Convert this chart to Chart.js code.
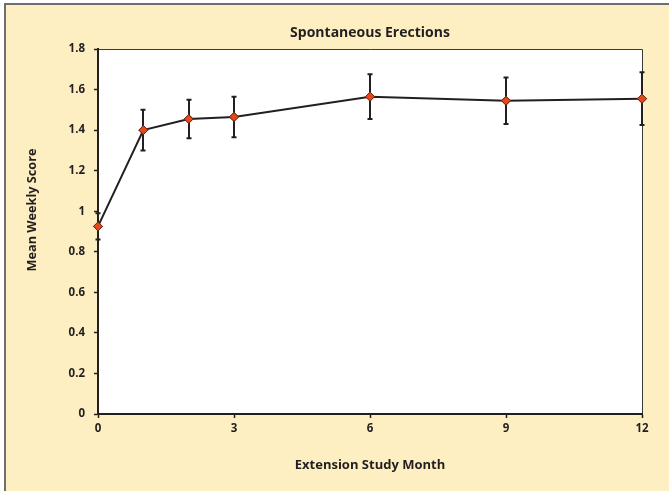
<!DOCTYPE html>
<html>
<head>
<meta charset="utf-8">
<script src="https://cdn.jsdelivr.net/npm/chart.js@4.4.1/dist/chart.umd.min.js"></script>
<style>
  html, body { margin: 0; padding: 0; background: #fff; }
  #wrap { width: 669px; height: 491px; }
</style>
</head>
<body>
<div id="wrap"><canvas id="myCanvas" width="669" height="491"></canvas></div>
<script>
var months = [0, 1, 2, 3, 6, 9, 12];
var means = [0.925, 1.40, 1.455, 1.465, 1.565, 1.545, 1.555];
var errors = [0.065, 0.10, 0.095, 0.10, 0.11, 0.115, 0.13];
var xTicks = [0, 3, 6, 9, 12];
var chartTitle = 'Spontaneous Erections';
var yTitle = 'Mean Weekly Score';
var xTitle = 'Extension Study Month';

var ink = '#231f20';
var fontFamily = '"Open Sans", sans-serif';

var points = months.map(function(m, i){ return {x: m, y: means[i]}; });

// yellow panel with grey frame, white plot area
var panel = {
  id: 'panel',
  beforeDraw: function(chart){
    var ctx = chart.ctx, a = chart.chartArea;
    ctx.save();
    ctx.fillStyle = '#fdefc1';
    ctx.fillRect(5, 4, 669, 491);
    ctx.strokeStyle = '#6d6e71';
    ctx.lineWidth = 2;
    ctx.beginPath();
    ctx.moveTo(5, 495); ctx.lineTo(5, 4); ctx.lineTo(675, 4);
    ctx.stroke();
    ctx.fillStyle = '#fff';
    ctx.fillRect(a.left, a.top, a.right - a.left, a.bottom - a.top);
    ctx.strokeStyle = '#3a3a3a';
    ctx.lineWidth = 1;
    ctx.beginPath();
    ctx.moveTo(a.left, a.top + 0.5); ctx.lineTo(a.right + 0.5, a.top + 0.5); ctx.lineTo(a.right + 0.5, a.bottom);
    ctx.stroke();
    ctx.restore();
  },
  afterDraw: function(chart){
    var ctx = chart.ctx, a = chart.chartArea;
    ctx.save();
    ctx.fillStyle = ink;
    ctx.textAlign = 'center';
    ctx.textBaseline = 'middle';
    ctx.font = 'bold 14px ' + fontFamily;
    ctx.fillText(chartTitle, (a.left + a.right) / 2, 33);
    ctx.translate(32, 210);
    ctx.rotate(-Math.PI / 2);
    ctx.font = 'bold 12.7px ' + fontFamily;
    ctx.fillText(yTitle, 0, 0);
    ctx.restore();
  }
};

// error bars, then markers drawn again on top
var errorBars = {
  id: 'errorBars',
  afterDatasetsDraw: function(chart){
    var ctx = chart.ctx, xs = chart.scales.x, ys = chart.scales.y;
    ctx.save();
    ctx.strokeStyle = ink;
    ctx.lineWidth = 2;
    months.forEach(function(m, i){
      var px = Math.round(xs.getPixelForValue(m));
      var top = ys.getPixelForValue(means[i] + errors[i]);
      var bot = ys.getPixelForValue(means[i] - errors[i]);
      ctx.beginPath();
      ctx.moveTo(px, top); ctx.lineTo(px, bot);
      ctx.moveTo(px - 2.5, top); ctx.lineTo(px + 2.5, top);
      ctx.moveTo(px - 2.5, bot); ctx.lineTo(px + 2.5, bot);
      ctx.stroke();
    });
    var meta = chart.getDatasetMeta(0);
    meta.data.forEach(function(pt){ pt.draw(ctx, chart.chartArea); });
    ctx.restore();
  }
};

var ctx = document.getElementById('myCanvas').getContext('2d');
var chart = new Chart(ctx, {
  type: 'line',
  data: {
    datasets: [{
      data: points,
      borderColor: ink,
      borderWidth: 2,
      tension: 0,
      pointStyle: 'rectRot',
      pointRadius: 4.5,
      pointBackgroundColor: '#e8471c',
      pointBorderColor: '#6b2a15',
      pointBorderWidth: 1,
      clip: false
    }]
  },
  options: {
    responsive: false,
    animation: false,
    devicePixelRatio: 1,
    layout: { padding: { left: 0, top: 49, right: 27, bottom: 0 } },
    plugins: { legend: { display: false }, tooltip: { enabled: false }, title: { display: false } },
    scales: {
      x: {
        type: 'linear',
        min: 0, max: 12,
        afterFit: function(s){ s.height = 77; },
        afterBuildTicks: function(s){ s.ticks = xTicks.map(function(v){ return {value: v}; }); },
        grid: { drawOnChartArea: false, drawTicks: true, tickLength: 4, color: ink, tickWidth: 1.5 },
        border: { color: ink, width: 2 },
        ticks: { color: ink, padding: 4, maxRotation: 0, font: { family: fontFamily, size: 11.5, weight: 'bold' } },
        title: { display: true, text: xTitle, color: ink, padding: { top: 0, bottom: 18 }, font: { family: fontFamily, size: 13, weight: 'bold' } }
      },
      y: {
        min: 0, max: 1.8,
        afterFit: function(s){ s.width = 98; },
        ticks: {
          stepSize: 0.2, color: ink, padding: 9,
          font: { family: fontFamily, size: 11.5, weight: 'bold' },
          callback: function(v){ return String(+v.toFixed(1)); }
        },
        grid: { drawOnChartArea: false, drawTicks: true, tickLength: 4, color: ink, tickWidth: 1.5 },
        border: { color: ink, width: 2 }
      }
    }
  },
  plugins: [panel, errorBars]
});
</script>
</body>
</html>
